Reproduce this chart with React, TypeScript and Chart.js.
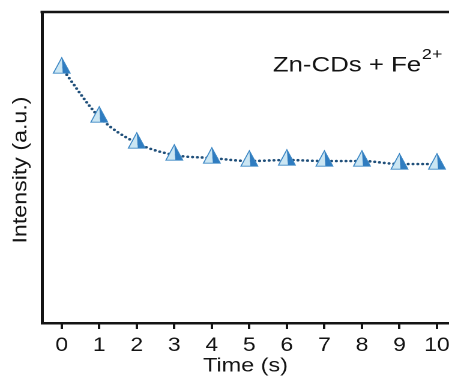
import React, { useEffect, useRef } from "react";
import { Chart, registerables } from "chart.js";

Chart.register(...registerables);

// ---- data ----
const timeValues = [0, 1, 2, 3, 4, 5, 6, 7, 8, 9, 10];
const intensityValues = [255, 206, 180, 168, 165, 162, 163, 162, 162, 159, 159];
const xTickValues = [0, 1, 2, 3, 4, 5, 6, 7, 8, 9, 10];
const annotationMain = "Zn-CDs + Fe";
const annotationSup = "2+";
const xTitle = "Time (s)";
const yTitle = "Intensity (a.u.)";

// ---- layout constants ----
const LOGICAL_W = 374;
const H = 380;
const DISPLAY_W = 449;
const STRETCH = DISPLAY_W / LOGICAL_W;
const FONT = '"Liberation Sans", Arial, Helvetica, sans-serif';
const INK = "#141414";

const topBorderPlugin = {
  id: "topBorder",
  afterDraw(chart: any) {
    const { ctx, chartArea } = chart;
    ctx.save();
    ctx.strokeStyle = INK;
    ctx.lineWidth = 2.5;
    ctx.beginPath();
    ctx.moveTo(chartArea.left - 1.25, chartArea.top);
    ctx.lineTo(chartArea.right, chartArea.top);
    ctx.stroke();
    ctx.restore();
  },
};

const yTitlePlugin = {
  id: "yTitle",
  afterDraw(chart: any) {
    const { ctx, chartArea } = chart;
    ctx.save();
    ctx.translate(17.6, (chartArea.top + chartArea.bottom) / 2 + 2.5);
    ctx.rotate(-Math.PI / 2);
    ctx.scale(1.19, 1 / STRETCH);
    ctx.font = `19.5px ${FONT}`;
    ctx.fillStyle = INK;
    ctx.textAlign = "center";
    ctx.textBaseline = "middle";
    ctx.fillText(yTitle, 0, 0);
    ctx.restore();
  },
};

const markerPlugin = {
  id: "pyramidMarkers",
  afterDatasetsDraw(chart: any) {
    const meta = chart.getDatasetMeta(0);
    const ctx = chart.ctx;
    const w = 14;
    const h = 15.5;
    ctx.save();
    meta.data.forEach((pt: any) => {
      const { x, y } = pt.getProps(["x", "y"], true);
      const top = y - (2 * h) / 3;
      const bot = y + h / 3;
      const l = x - w / 2;
      const r = x + w / 2;
      const m = x + w * 0.06;
      ctx.beginPath();
      ctx.moveTo(x, top);
      ctx.lineTo(l, bot);
      ctx.lineTo(m, bot);
      ctx.closePath();
      ctx.fillStyle = "#cbe6f3";
      ctx.fill();
      ctx.beginPath();
      ctx.moveTo(x, top);
      ctx.lineTo(m, bot);
      ctx.lineTo(r, bot);
      ctx.closePath();
      ctx.fillStyle = "#2f7cc0";
      ctx.fill();
      ctx.beginPath();
      ctx.moveTo(x, top);
      ctx.lineTo(l, bot);
      ctx.lineTo(r, bot);
      ctx.closePath();
      ctx.strokeStyle = "#3b86c4";
      ctx.lineWidth = 0.9;
      ctx.lineJoin = "miter";
      ctx.stroke();
    });
    ctx.restore();
  },
};

const annotationPlugin = {
  id: "annotationText",
  afterDraw(chart: any) {
    const ctx = chart.ctx;
    ctx.save();
    ctx.fillStyle = INK;
    ctx.textBaseline = "alphabetic";
    ctx.textAlign = "left";
    ctx.font = `21.5px ${FONT}`;
    const x0 = 227.2;
    ctx.fillText(annotationMain, x0, 71.5);
    const wMain = ctx.measureText(annotationMain).width;
    ctx.font = `15px ${FONT}`;
    ctx.fillText(annotationSup, x0 + wMain + 0.5, 59);
    ctx.restore();
  },
};

export default function App() {
  const canvasRef = useRef<HTMLCanvasElement | null>(null);

  useEffect(() => {
    const canvas = canvasRef.current;
    if (!canvas) return;
    const chart = new Chart(canvas, {
      type: "line",
      data: {
        labels: timeValues,
        datasets: [
          {
            data: timeValues.map((t, i) => ({ x: t, y: intensityValues[i] })),
            borderColor: "#1f4f7a",
            borderWidth: 2.6,
            borderDash: [0, 4],
            borderCapStyle: "round",
            pointRadius: 0,
            pointHoverRadius: 0,
            cubicInterpolationMode: "monotone",
            fill: false,
          },
        ],
      },
      options: {
        responsive: false,
        animation: false,
        devicePixelRatio: 2,
        events: [],
        layout: { padding: { top: 12, right: 0, left: 0, bottom: 0 } },
        plugins: {
          legend: { display: false },
          tooltip: { enabled: false },
        },
        scales: {
          x: {
            type: "linear",
            min: -0.525,
            max: 10.32,
            afterBuildTicks: (s: any) => {
              s.ticks = xTickValues.map((v) => ({ value: v }));
            },
            afterFit: (s: any) => {
              s.height = 57;
              s.paddingLeft = 0;
              s.paddingRight = 0;
            },
            grid: {
              display: true,
              drawOnChartArea: false,
              drawTicks: true,
              tickLength: 6,
              tickWidth: 2,
              tickColor: INK,
            },
            border: { display: true, width: 2.5, color: INK },
            ticks: {
              font: { family: FONT, size: 19 },
              color: INK,
              padding: 5.5,
              maxRotation: 0,
              autoSkip: false,
            },
            title: {
              display: true,
              text: xTitle,
              font: { family: FONT, size: 19.5 },
              color: INK,
              padding: { top: 0, bottom: 2 },
            },
          },
          y: {
            type: "linear",
            min: 0,
            max: 311,
            afterFit: (s: any) => {
              s.width = 35;
            },
            ticks: { display: false },
            grid: { display: true, drawOnChartArea: false, drawTicks: false },
            border: { display: true, width: 2.5, color: INK },
            title: { display: false },
          },
        },
      } as any,
      plugins: [topBorderPlugin, markerPlugin, annotationPlugin, yTitlePlugin],
    });
    return () => chart.destroy();
  }, []);

  return (
    <div
      style={{
        position: "absolute",
        left: 0,
        top: 0,
        width: DISPLAY_W,
        height: H,
        background: "#fff",
        overflow: "hidden",
      }}
    >
      <canvas
        ref={canvasRef}
        width={LOGICAL_W}
        height={H}
        style={{ width: `${DISPLAY_W}px`, height: `${H}px`, display: "block" }}
      />
    </div>
  );
}
